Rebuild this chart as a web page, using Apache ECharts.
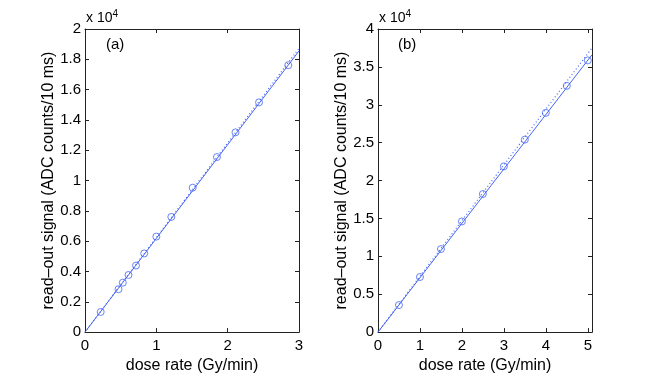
<!DOCTYPE html>
<html>
<head>
<meta charset="utf-8">
<script src="https://cdn.jsdelivr.net/npm/echarts@6/dist/echarts.min.js"></script>
<style>
  html, body { margin: 0; padding: 0; background: #fff; }
  #chart { width: 654px; height: 379px; }
</style>
</head>
<body>
<div id="chart"></div>
<script>
// panel (a): dose rate (Gy/min) vs read-out signal (x 10^4 ADC counts/10 ms)
const doseA = [0.22, 0.47, 0.53, 0.61, 0.715, 0.83, 1.0, 1.21, 1.51, 1.85, 2.11, 2.44, 2.85];
const signalA = [0.133, 0.283, 0.326, 0.377, 0.439, 0.519, 0.63, 0.76, 0.953, 1.155, 1.318, 1.516, 1.761];
const fitSolidA = [[0, 0], [3, 1.855]];
const fitDotA = [[0, 0], [3, 1.872]];

// panel (b)
const doseB = [0.5, 1, 1.5, 2, 2.5, 3, 3.5, 4, 4.5, 5];
const signalB = [0.357, 0.727, 1.096, 1.46, 1.822, 2.187, 2.54, 2.893, 3.25, 3.586];
const fitSolidB = [[0, 0], [5.1, 3.66]];
const fitDotB = [[0, 0], [5.1, 3.75]];

const blue = '#4565f2';
const axisCol = '#222';
const font = 'Liberation Sans, Arial, Helvetica, sans-serif';

let chart = echarts.init(document.getElementById('chart'));

function pairs(xs, ys) {
  return xs.map((x, i) => [x, ys[i]]);
}

// main axis (with labels) + mirrored axis (ticks only) for the box look
function xAxes(gi, max, interval, name) {
  return [
    {
      type: 'value', gridIndex: gi, min: 0, max: max, interval: interval,
      position: 'bottom',
      name: name, nameLocation: 'middle', nameGap: 22,
      nameTextStyle: { color: '#000', fontSize: 16, fontFamily: font },
      axisLine: { show: true, onZero: false, lineStyle: { color: axisCol } },
      axisTick: { show: true, inside: true, length: 4, lineStyle: { color: axisCol } },
      axisLabel: {
        color: '#000', fontSize: 15, fontFamily: font, margin: 6,
        formatter: v => (Math.abs(v - Math.round(v)) < 1e-9 ? String(Math.round(v)) : '')
      },
      splitLine: { show: false }
    },
    {
      type: 'value', gridIndex: gi, min: 0, max: max, interval: interval,
      position: 'top',
      axisLine: { show: true, onZero: false, lineStyle: { color: axisCol } },
      axisTick: { show: true, inside: true, length: 4, lineStyle: { color: axisCol } },
      axisLabel: { show: false },
      splitLine: { show: false }
    }
  ];
}

function yAxes(gi, max, interval) {
  return [
    {
      type: 'value', gridIndex: gi, min: 0, max: max, interval: interval,
      position: 'left',
      name: 'read\u2013out signal (ADC counts/10 ms)', nameLocation: 'middle', nameGap: 27,
      nameTextStyle: { color: '#000', fontSize: 16, fontFamily: font },
      axisLine: { show: true, onZero: false, lineStyle: { color: axisCol } },
      axisTick: { show: true, inside: true, length: 4, lineStyle: { color: axisCol } },
      axisLabel: { color: '#000', fontSize: 15, fontFamily: font, margin: 4 },
      splitLine: { show: false }
    },
    {
      type: 'value', gridIndex: gi, min: 0, max: max, interval: interval,
      position: 'right',
      axisLine: { show: true, onZero: false, lineStyle: { color: axisCol } },
      axisTick: { show: true, inside: true, length: 4, lineStyle: { color: axisCol } },
      axisLabel: { show: false },
      splitLine: { show: false }
    }
  ];
}

function panelSeries(xi, yi, pts, solid, dot) {
  return [
    {
      type: 'line', xAxisIndex: xi, yAxisIndex: yi, data: dot,
      symbol: 'none', lineStyle: { color: blue, width: 1.2, type: [1, 2.5] }, z: 2
    },
    {
      type: 'line', xAxisIndex: xi, yAxisIndex: yi, data: solid,
      symbol: 'none', lineStyle: { color: blue, width: 1 }, z: 3
    },
    {
      type: 'scatter', xAxisIndex: xi, yAxisIndex: yi, data: pts,
      symbol: 'circle', symbolSize: 7,
      itemStyle: { color: 'rgba(0,0,0,0)', borderColor: blue, borderWidth: 1 }, z: 4
    }
  ];
}

const sup = { s: { fontSize: 10, verticalAlign: 'top', padding: [0, 0, 9, 0], fontFamily: font } };

chart.setOption({
  animation: false,
  backgroundColor: '#fff',
  grid: [
    { left: 85, top: 29, width: 214, height: 307 },
    { left: 378, top: 29, width: 214, height: 307 }
  ],
  xAxis: [].concat(xAxes(0, 3, 1, 'dose rate (Gy/min)'), xAxes(1, 5.1, 1, 'dose rate (Gy/min)')),
  yAxis: [].concat(yAxes(0, 2, 0.2), yAxes(1, 4, 0.5)),
  series: [].concat(
    panelSeries(0, 0, pairs(doseA, signalA), fitSolidA, fitDotA),
    panelSeries(2, 2, pairs(doseB, signalB), fitSolidB, fitDotB)
  ),
  graphic: [
    {
      type: 'text', left: 86, top: 9,
      style: { text: 'x 10{s|4}', fill: '#000', fontSize: 14, fontFamily: font, rich: sup }
    },
    {
      type: 'text', left: 379, top: 9,
      style: { text: 'x 10{s|4}', fill: '#000', fontSize: 14, fontFamily: font, rich: sup }
    },
    {
      type: 'text', left: 106, top: 37,
      style: { text: '(a)', fill: '#000', fontSize: 15, fontFamily: font }
    },
    {
      type: 'text', left: 398, top: 37,
      style: { text: '(b)', fill: '#000', fontSize: 15, fontFamily: font }
    }
  ]
});
</script>
</body>
</html>
